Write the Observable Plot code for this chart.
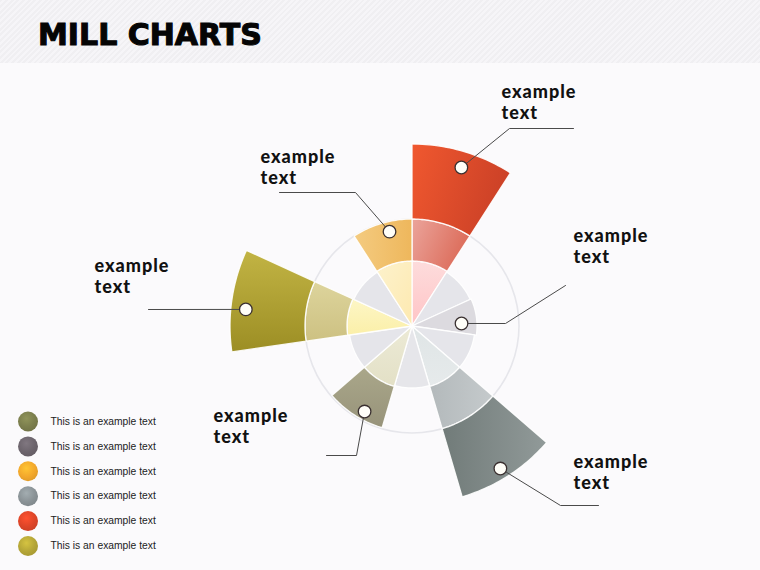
<!DOCTYPE html>
<html><head><meta charset="utf-8">
<script src="https://cdn.jsdelivr.net/npm/d3@7"></script>
<script src="https://cdn.jsdelivr.net/npm/@observablehq/plot@0.6"></script>
<style>
html,body{margin:0;padding:0;background:#fbfafc;}
#page{width:760px;height:570px;position:relative;overflow:hidden;background:#fbfafc;}
#header{height:63px;position:relative;background:repeating-linear-gradient(135deg,#f0eff2 0 2px,#f6f5f8 2px 4px);}
#header h1{margin:0;position:absolute;left:38px;top:20px;line-height:30px;font-family:"DejaVu Sans";font-weight:bold;font-size:30px;color:#050505;-webkit-text-stroke:1.1px #050505;}
#chart svg{display:block;}
</style></head><body>
<div id="page"><div id="header"><h1>MILL CHARTS</h1></div><div id="chart"></div></div>
<script>
// ---- data ----
const sectorIds    = [0, 1, 2, 3, 4, 5, 6, 7, 8, 9, 10];
const innerRadius  = [65, 64, 65, 63, 63, 62, 63, 63, 65, 64, 65];
const middleRadius = [107, 0, 0, 0, 107, 0, 106, 0, 107, 0, 107];
const outerRadius  = [182, 0, 0, 0, 178, 0, 0, 0, 182, 0, 0];
const calloutText  = ["example\ntext", "example\ntext", "example\ntext", "example\ntext", "example\ntext", "example\ntext"];
const legendLabels = ["This is an example text", "This is an example text", "This is an example text", "This is an example text", "This is an example text", "This is an example text"];

// ---- styles ----
const innerFill  = ["url(#gRedIn)", "#e5e5ea", "#dcdadf", "#e5e5ea", "url(#gGrayIn)", "#e6e6ea", "url(#gSmallIn)", "#e5e5ea", "url(#gOliveIn)", "#e5e5ea", "url(#gOrangeIn)"];
const middleFill = ["url(#gRedMid)", null, null, null, "url(#gGrayMid)", null, "url(#gSmallOlive)", null, "url(#gOliveMid)", null, "url(#gOrange)"];
const outerFill  = ["url(#gRedOut)", null, null, null, "url(#gGrayOut)", null, null, null, "url(#gOliveOut)", null, null];
const legendFill = ["url(#lg0)", "url(#lg1)", "url(#lg2)", "url(#lg3)", "url(#lg4)", "url(#lg5)"];
const legendBase = ["#7b7e4d", "#6d656d", "#f3a82c", "#8b9397", "#de4528", "#b5a637"];

// ---- layout (page pixels) ----
const CX = 411.5, CY = 325.5;
const X = px => px - CX, Y = py => CY - py;
const anchorPolar = [[17.3, 166], [346.6, 97], [87.1, 49.6], [275.7, 167], [209, 97.8], [148.2, 167.7]];
const calloutPath = [
  [[509, 128], [573, 128]],
  [[355, 192], [279, 192]],
  [[505, 323], [565, 285]],
  [[148, 309]],
  [[356, 455], [326, 455]],
  [[560, 505], [598, 505]]
];
const labelPos = [[501, 118], [260, 183], [573, 262], [94, 292], [213, 442], [573, 488]];

const step = 360 / sectorIds.length;
const rad = a => a * Math.PI / 180;
function ring(id, a0, a1, r0, r1, fill) {
  const pts = [], n = 30;
  for (let k = 0; k <= n; k++) { const a = rad(a0 + (a1 - a0) * k / n); pts.push({id, fill, x: r1 * Math.sin(a), y: r1 * Math.cos(a)}); }
  if (r0 > 0) for (let k = n; k >= 0; k--) { const a = rad(a0 + (a1 - a0) * k / n); pts.push({id, fill, x: r0 * Math.sin(a), y: r0 * Math.cos(a)}); }
  else pts.push({id, fill, x: 0, y: 0});
  return pts;
}
const polys = [];
sectorIds.forEach(i => {
  const a0 = i * step, a1 = (i + 1) * step;
  polys.push(...ring(`s${i}a`, a0, a1, 0, innerRadius[i], innerFill[i]));
  if (middleRadius[i]) polys.push(...ring(`s${i}b`, a0, a1, innerRadius[i], middleRadius[i], middleFill[i]));
  if (outerRadius[i]) polys.push(...ring(`s${i}c`, a0, a1, middleRadius[i], outerRadius[i], outerFill[i]));
});

const anchors = anchorPolar.map(([a, r], k) => ({k, x: r * Math.sin(rad(a)), y: r * Math.cos(rad(a))}));
const leader = [];
anchors.forEach((p, k) => {
  leader.push({k, x: p.x, y: p.y});
  calloutPath[k].forEach(([px, py]) => leader.push({k, x: X(px), y: Y(py)}));
});
const labels = labelPos.map(([px, py], k) => ({x: X(px), y: Y(py), t: calloutText[k]}));
const legend = legendLabels.map((t, k) => ({t, fill: legendFill[k], x: X(27.5), tx: X(50), y: Y(421 + k * 24.9)}));

const chart = Plot.plot({
  width: 760, height: 507,
  marginTop: 0, marginRight: 0, marginBottom: 0, marginLeft: 0,
  x: {domain: [X(0), X(760)], axis: null},
  y: {domain: [Y(570), Y(63)], axis: null},
  color: {type: "identity"},
  style: {background: "transparent", overflow: "visible"},
  marks: [
    Plot.dot([0], {x: () => 0, y: () => 0, r: 107, fill: "none", stroke: "#e6e6eb", strokeWidth: 1.6}),
    Plot.line(polys, {x: "x", y: "y", z: "id", fill: "fill", stroke: "#ffffff", strokeWidth: 1.3, strokeOpacity: 0.9, curve: "linear-closed"}),
    Plot.line(leader, {x: "x", y: "y", z: "k", stroke: "#4a4a4a", strokeWidth: 1}),
    Plot.dot(anchors, {x: "x", y: "y", r: 6.3, fill: "#fffef8", stroke: "#3a3030", strokeWidth: 1.3}),
    Plot.text(labels, {x: "x", y: "y", text: "t", textAnchor: "start", lineAnchor: "bottom", lineHeight: 1.15, fontSize: 18, fontWeight: 900, fontFamily: "Lato", fill: "#111"}),
    Plot.dot(legend, {x: "x", y: "y", r: 10, fill: "fill"}),
    Plot.text(legend, {x: "tx", y: "y", text: "t", textAnchor: "start", fontSize: 10.3, fontFamily: "Liberation Sans", fill: "#222"})
  ]
});

const grads = {
  gRedOut: ["#f0582f", "#cc4127", 1, 0.3],
  gRedMid: ["#eba49b", "#dc6c5a", 1, 0.4],
  gRedIn: ["#fddcdc", "#ffc4c6", 0, 1],
  gOrange: ["#f4cb80", "#eeb75c", 1, 0],
  gOrangeIn: ["#fdf2cc", "#fde9b0", 1, 1],
  gOliveOut: ["#c2b444", "#9c8e24", 0, 1],
  gOliveMid: ["#ddd49c", "#cdc182", 0, 1],
  gOliveIn: ["#fdf6c6", "#fbefa8", 0, 1],
  gGrayOut: ["#717b79", "#919a99", 1, 0],
  gGrayMid: ["#b3b9bb", "#c5cacc", 1, 0],
  gGrayIn: ["#dfe5e6", "#e6eaeb", 0, 1],
  gSmallOlive: ["#aaa78a", "#97937a", 0, 1],
  gSmallIn: ["#ecead6", "#e3e0c6", 0, 1]
};
let defs = "";
for (const [id, [c0, c1, x2, y2]] of Object.entries(grads)) {
  defs += `<linearGradient id="${id}" x1="0" y1="0" x2="${x2}" y2="${y2}"><stop offset="0" stop-color="${c0}"/><stop offset="1" stop-color="${c1}"/></linearGradient>`;
}
legendBase.forEach((c, k) => {
  const hi = d3.color(c).brighter(0.45).formatHex(), lo = d3.color(c).darker(0.25).formatHex();
  defs += `<radialGradient id="lg${k}" cx="0.42" cy="0.35" r="0.7"><stop offset="0" stop-color="${hi}"/><stop offset="0.6" stop-color="${c}"/><stop offset="1" stop-color="${lo}"/></radialGradient>`;
});
const d = document.createElementNS("http://www.w3.org/2000/svg", "defs");
d.innerHTML = defs;
chart.insertBefore(d, chart.firstChild);
chart.querySelectorAll("text").forEach(t => {
  if (t.textContent.startsWith("example")) t.style.letterSpacing = "1px";
});
document.getElementById("chart").appendChild(chart);
</script>
</body></html>
